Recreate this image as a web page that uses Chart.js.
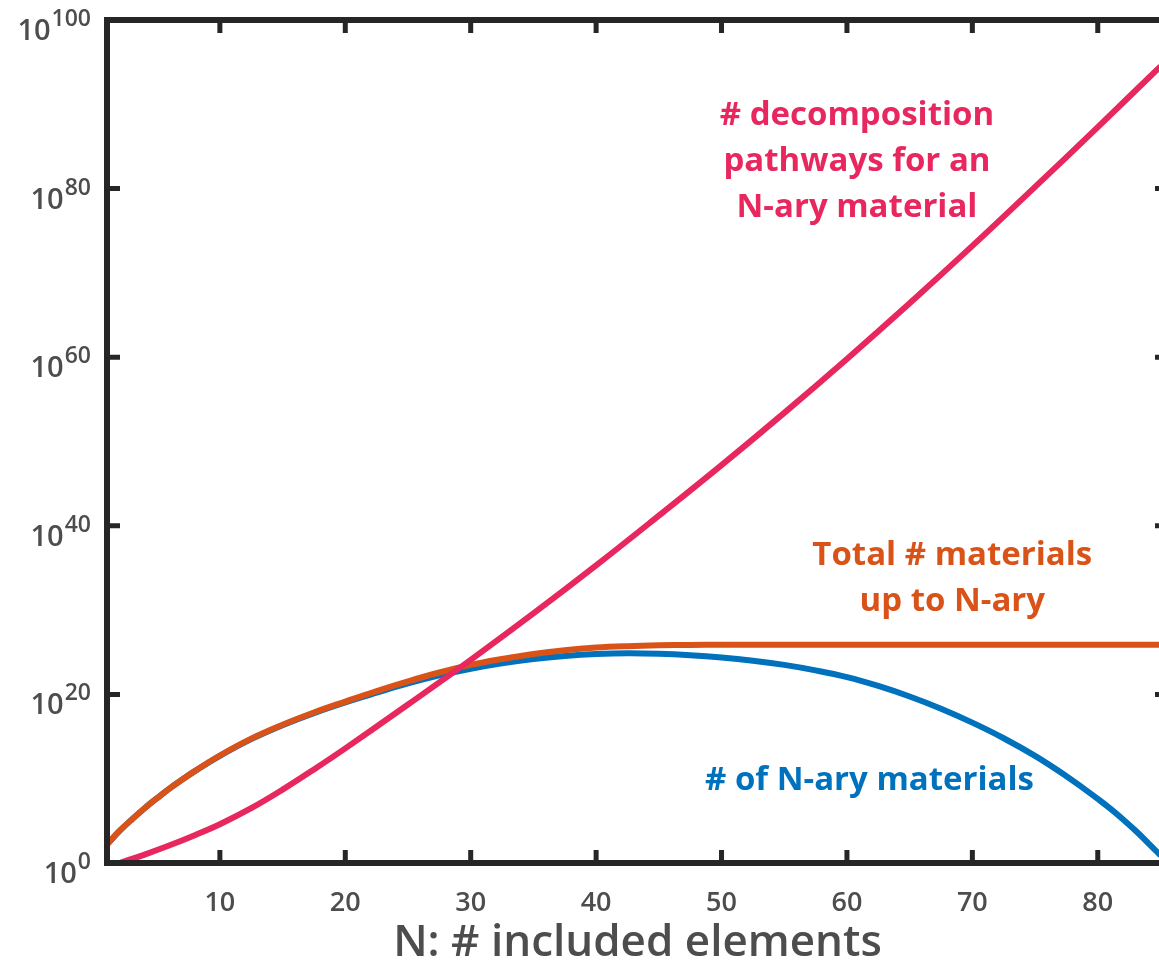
<!DOCTYPE html>
<html><head><meta charset="utf-8">
<script src="https://cdn.jsdelivr.net/npm/chart.js@4"></script>
<style>
html,body{margin:0;padding:0;background:#fff;overflow:hidden;width:1159px;height:973px}
#wrap{position:absolute;left:0;top:0;width:1180px;height:973px}
</style>
</head><body><div id="wrap"><canvas id="c" width="1180" height="973"></canvas></div>
<script>
// ---- data (y values are log10 exponents) ----
const nMaterials = [1,2,3,4,5,6,7,8,10,12.5,15,17.5,20,22.5,25,27.5,30,32.5,35,37.5,40,42.5,45,47.5,50,52.5,55,57.5,60,62.5,65,67.5,70,72.5,75,77.5,79,80,81,82,83,84,85];
const naryExp    = [2.2,3.8,5.2,6.5,7.7,8.85,9.9,10.9,12.72,14.7,16.35,17.78,19.05,20.2,21.3,22.25,23.05,23.7,24.2,24.55,24.78,24.88,24.82,24.65,24.38,24.0,23.5,22.85,22.05,21.0,19.75,18.3,16.65,14.8,12.7,10.3,8.7,7.6,6.45,5.2,3.85,2.4,0.9];
const totalExp   = [2.2,3.8,5.2,6.5,7.7,8.85,9.9,10.9,12.75,14.75,16.4,17.85,19.15,20.4,21.55,22.6,23.5,24.2,24.8,25.25,25.55,25.72,25.82,25.87,25.9,25.9,25.9,25.9,25.9,25.9,25.9,25.9,25.9,25.9,25.9,25.9,25.9,25.9,25.9,25.9,25.9,25.9,25.9];
const nPathways  = [2,4,6,8,10,12.5,15,17.5,20,25,30,35,40,45,50,55,60,65,70,75,80,85];
const pathwayExp = [0,1.0,2.1,3.3,4.6,6.5,8.7,11.1,13.6,18.8,24.1,29.6,35.3,41.2,47.2,53.4,59.8,66.4,73.2,80.2,87.3,94.5];
const xTicks = [10,20,30,40,50,60,70,80];
const yTickExp = [0,20,40,60,80,100];
const pinkLabel = ['# decomposition','pathways for an','N-ary material'];
const orangeLabel = ['Total # materials','up to N-ary'];
const blueLabel = ['# of N-ary materials'];
const xTitle = 'N: # included elements';

const PINK = '#E8275F', ORANGE = '#D95319', BLUE = '#0072BD', AXIS = '#262626', TXT = '#4D4D4D';
const FONT = "'Open Sans', 'Noto Sans', sans-serif";

const toPts = (xs, es) => xs.map((x, i) => ({x: x, y: Math.pow(10, es[i])}));

const framePlugin = {
  id: 'frame',
  afterDatasetsDraw(chart) {
    const ctx = chart.ctx, xs = chart.scales.x, ys = chart.scales.y;
    const labels = [
      {lines: pinkLabel, color: PINK, n: 60.8, e: 87.5},
      {lines: orangeLabel, color: ORANGE, n: 68.4, e: 35.35},
      {lines: blueLabel, color: BLUE, n: 61.8, e: 8.66}
    ];
    ctx.save();
    ctx.font = "700 33px " + FONT;
    ctx.textAlign = 'center';
    ctx.textBaseline = 'alphabetic';
    labels.forEach(l => {
      const x = xs.getPixelForValue(l.n), y = ys.getPixelForValue(Math.pow(10, l.e));
      ctx.fillStyle = l.color;
      l.lines.forEach((t, i) => ctx.fillText(t, x, y + i * 46));
    });
    ctx.restore();
  },
  afterDraw(chart) {
    const ctx = chart.ctx, a = chart.chartArea, xs = chart.scales.x, ys = chart.scales.y;
    ctx.save();
    ctx.strokeStyle = AXIS;
    ctx.lineWidth = 6;
    ctx.lineCap = 'butt';
    ctx.strokeRect(a.left, a.top, a.right - a.left, a.bottom - a.top);
    ctx.lineWidth = 5;
    const TL = 13;
    xTicks.forEach(v => {
      const x = xs.getPixelForValue(v);
      ctx.beginPath();
      ctx.moveTo(x, a.bottom); ctx.lineTo(x, a.bottom - TL);
      ctx.moveTo(x, a.top); ctx.lineTo(x, a.top + TL);
      ctx.stroke();
    });
    yTickExp.forEach(e => {
      const y = ys.getPixelForValue(Math.pow(10, e));
      ctx.beginPath();
      ctx.moveTo(a.left, y); ctx.lineTo(a.left + TL, y);
      ctx.moveTo(a.right, y); ctx.lineTo(a.right - TL, y);
      ctx.stroke();
    });
    // y tick labels 10^e
    ctx.fillStyle = TXT;
    ctx.textBaseline = 'alphabetic';
    const rightEdge = 91;
    yTickExp.forEach(e => {
      const y = ys.getPixelForValue(Math.pow(10, e));
      ctx.font = "600 23px " + FONT;
      const es = String(e);
      const w = ctx.measureText(es).width;
      ctx.textAlign = 'left';
      ctx.fillText(es, rightEdge - w, y + 6);
      ctx.font = "600 29px " + FONT;
      ctx.textAlign = 'right';
      ctx.fillText('10', rightEdge - w - 1, y + 20);
    });
    ctx.restore();
  }
};

const lineStyle = {borderWidth: 6, pointRadius: 0, tension: 0.4, fill: false};

new Chart(document.getElementById('c'), {
  type: 'line',
  data: {
    datasets: [
      Object.assign({label: '# decomposition pathways', data: toPts(nPathways, pathwayExp), borderColor: PINK}, lineStyle),
      Object.assign({label: 'Total # materials', data: toPts(nMaterials, totalExp), borderColor: ORANGE}, lineStyle),
      Object.assign({label: '# of N-ary materials', data: toPts(nMaterials, naryExp), borderColor: BLUE}, lineStyle)
    ]
  },
  options: {
    responsive: false,
    animation: false,
    devicePixelRatio: 1,
    layout: {padding: {top: 20, left: 0, right: 12, bottom: 0}},
    plugins: {legend: {display: false}, tooltip: {enabled: false}},
    scales: {
      x: {
        type: 'linear', min: 1, max: 85.6,
        grid: {display: false}, border: {display: false},
        afterBuildTicks: s => { s.ticks = xTicks.map(v => ({value: v})); },
        afterFit: s => { s.height = 110; },
        ticks: {autoSkip: false, maxRotation: 0, color: TXT, padding: 16, font: {family: FONT, size: 27, weight: '600'}},
        title: {display: true, text: xTitle, color: TXT, font: {family: FONT, size: 44, weight: '600'}, padding: {top: 0, bottom: 3}}
      },
      y: {
        type: 'logarithmic', min: 1, max: 1e100,
        grid: {display: false}, border: {display: false},
        afterBuildTicks: s => { s.ticks = yTickExp.map(e => ({value: Math.pow(10, e)})); },
        afterFit: s => { s.width = 107; },
        ticks: {display: false}
      }
    }
  },
  plugins: [framePlugin]
});
</script>
</body></html>
